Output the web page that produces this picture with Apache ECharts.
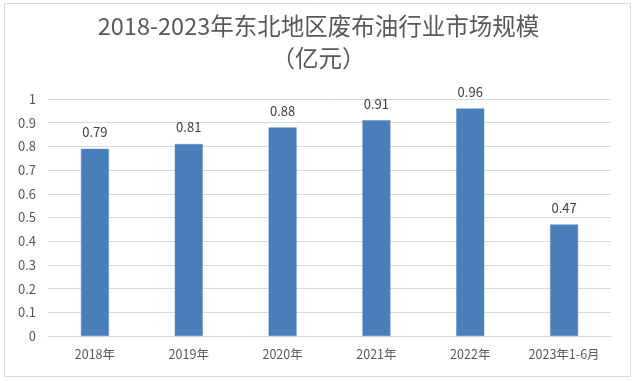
<!DOCTYPE html>
<html><head><meta charset="utf-8">
<script src="https://cdn.jsdelivr.net/npm/echarts@6/dist/echarts.min.js"></script>
<style>html,body{margin:0;padding:0;background:#fff}#c{width:637px;height:383px}</style>
</head><body><div id="c"></div>
<script>
const categories = ['2018年','2019年','2020年','2021年','2022年','2023年1-6月'];
const values = [0.79, 0.81, 0.88, 0.91, 0.96, 0.47];
const titleLine1 = '2018-2023年东北地区废布油行业市场规模';
const titleLine2 = '（亿元）';
const chart = echarts.init(document.getElementById('c'), null, {renderer:'canvas'});
const font = '"Noto Sans CJK SC", "Noto Sans", sans-serif';
const tStyle = {fontFamily:font,fontSize:23.5,fontWeight:'normal',color:'#595959'};
chart.setOption({
  backgroundColor:'#fff',
  animation:false,
  graphic:[{type:'rect',shape:{x:4.5,y:3.5,width:626,height:373},style:{fill:'none',stroke:'#d9d9d9',lineWidth:1}}],
  title:[
    {text:titleLine1,left:'center',top:14,padding:0,textStyle:tStyle},
    {text:titleLine2,left:'center',top:46,padding:0,textStyle:tStyle}
  ],
  grid:{left:48,right:26,top:99,bottom:47,containLabel:false},
  xAxis:{type:'category',data:categories,axisLine:{lineStyle:{color:'#d9d9d9'}},axisTick:{show:false},
    axisLabel:{interval:0,color:'#595959',fontSize:12.5,fontFamily:font,margin:12}},
  yAxis:{type:'value',min:0,max:1,interval:0.1,axisLine:{show:false},axisTick:{show:false},
    splitLine:{lineStyle:{color:'#d9d9d9'}},
    axisLabel:{color:'#595959',fontSize:13,fontFamily:font,margin:12,formatter:v=>String(Math.round(v*10)/10)}},
  series:[{type:'bar',data:values,barWidth:28,itemStyle:{color:'#4a7ebb',borderColor:'#5b8ec9',borderWidth:0.5},
    label:{show:true,position:'top',distance:10,color:'#404040',fontSize:13,fontFamily:font}}]
});
</script></body></html>
